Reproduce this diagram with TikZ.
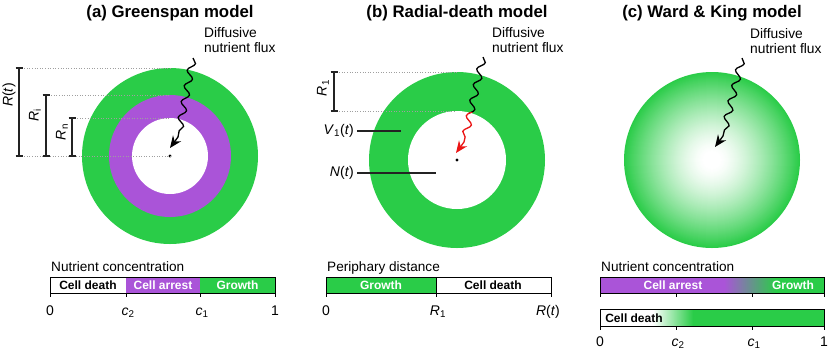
\documentclass[tikz,border=0pt]{standalone}
\usepackage{fontspec}
\setmainfont{Liberation Sans}
\usetikzlibrary{decorations.pathmorphing,arrows.meta}
\definecolor{grn}{RGB}{42,204,72}
\definecolor{prp}{RGB}{170,84,216}
\definecolor{dimc}{RGB}{35,35,35}
\definecolor{fluxred}{RGB}{235,20,20}
\tikzset{
 titlelab/.style={font=\fontsize{16.8}{19}\selectfont\bfseries, inner sep=0pt},
 fluxlab/.style={font=\fontsize{13.8}{15}\selectfont, align=left, anchor=base west, inner sep=0pt},
 wave/.style={decoration={snake, segment length=16pt, amplitude=3.5pt}, line width=1.3pt, -{Stealth[length=12pt,width=10pt,inset=4pt]}},
 barlab/.style={font=\fontsize{12}{14}\selectfont\bfseries, anchor=base, inner sep=0pt},
 ticklab/.style={font=\fontsize{14}{16}\selectfont, anchor=base, inner sep=0pt},
 caplab/.style={font=\fontsize{13.6}{15}\selectfont, anchor=base west, inner sep=0pt},
 dimlab/.style={font=\fontsize{14}{16}\selectfont, inner sep=0pt, rotate=90},
 sidelab/.style={font=\fontsize{14}{16}\selectfont, inner sep=0pt, anchor=east},
 dimline/.style={line width=1.3pt, draw=dimc},
 dotl/.style={draw=gray!75, dotted, line width=0.6pt},
 barframe/.style={draw=black, line width=0.8pt},
 tickmark/.style={draw=black, line width=0.8pt},
}
\begin{document}
\begin{tikzpicture}[x=1pt,y=-1pt]
\useasboundingbox (0,0) rectangle (830,357);

% ================= (a) Greenspan =================
\node[titlelab] (ta) at (170,13) {(a) Greenspan model};
\coordinate (ca) at (170,156);
\fill[grn] (ca) circle (88pt);
\fill[prp] (ca) circle (61pt);
\fill[white] (ca) circle (38pt);
\fill[black] (ca) circle (1.6pt);

\coordinate (Rt1) at (19,68);  \coordinate (Rt2) at (19,156);
\coordinate (Ri1) at (46,95);  \coordinate (Ri2) at (46,156);
\coordinate (Rn1) at (72,118); \coordinate (Rn2) at (72,156);
\coordinate (topRt) at (170,68);
\coordinate (topRi) at (170,95);
\coordinate (topRn) at (170,118);
\draw[dotl] (Rt1) -- (topRt);
\draw[dotl] (Ri1) -- (topRi);
\draw[dotl] (Rn1) -- (topRn);
\draw[dotl] (Rt2) -- (ca);
\foreach \p/\q in {Rt1/Rt2,Ri1/Ri2,Rn1/Rn2}{
  \draw[dimline] (\p) -- (\q);
  \draw[dimline] ([xshift=-3.5pt]\p) -- ([xshift=3.5pt]\p);
  \draw[dimline] ([xshift=-3.5pt]\q) -- ([xshift=3.5pt]\q);
}
\node[dimlab] (lRt) at (9,95) {\textit{R}(\textit{t})};
\node[dimlab] (lRi) at (35,115) {\textit{R}\textsubscript{i}};
\node[dimlab] (lRn) at (62,132) {\textit{R}\textsubscript{n}};

\coordinate (wa1) at (193,58);
\coordinate (wam) at (178,137);
\coordinate (wa2) at (170,148);
\draw[wave, black] decorate {(wa1) -- (wam)} -- (wa2);
\node[fluxlab] (fa) at (204,52.5) {Diffusive\\nutrient flux};

% bar (a)
\node[caplab] (na) at (51,271.7) {Nutrient concentration};
\fill[white] (50,277) rectangle (126,293);
\fill[prp] (126,277) rectangle (200,293);
\fill[grn] (200,277) rectangle (275,293);
\draw[barframe] (50,277) rectangle (275,293);
\foreach \x in {50,126,200,275} \draw[tickmark] (\x,293) -- (\x,297);
\node[barlab] (ba1) at (88,289.5) {Cell death};
\node[barlab, text=white] (ba2) at (163,289.5) {Cell arrest};
\node[barlab, text=white] (ba3) at (237.5,289.5) {Growth};
\node[ticklab] (ka0) at (50,315) {0};
\node[ticklab] (ka1) at (128,315) {\textit{c}\textsubscript{2}};
\node[ticklab] (ka2) at (202,315) {\textit{c}\textsubscript{1}};
\node[ticklab] (ka3) at (275,315) {1};

% ================= (b) Radial-death =================
\node[titlelab] (tb) at (457,13) {(b) Radial-death model};
\coordinate (cb) at (457,160);
\fill[grn] (cb) circle (88pt);
\fill[white] (cb) circle (49pt);
\fill[black] (cb) circle (1.6pt);

\coordinate (R11) at (334,72); \coordinate (R12) at (334,111);
\coordinate (topR1) at (458,72); \coordinate (inR1) at (456,111);
\draw[dotl] (R11) -- (topR1);
\draw[dotl] (R12) -- (inR1);
\draw[dimline] (R11) -- (R12);
\draw[dimline] ([xshift=-3.5pt]R11) -- ([xshift=3.5pt]R11);
\draw[dimline] ([xshift=-3.5pt]R12) -- ([xshift=3.5pt]R12);
\node[dimlab] (lR1) at (323,88) {\textit{R}\textsubscript{1}};

\node[sidelab] (lV) at (354,131) {\textit{V}\textsubscript{1}(\textit{t})};
\coordinate (V1e) at (401,131);
\draw[dimline] ([xshift=3pt]lV.east) -- (V1e);
\node[sidelab] (lN) at (354,173) {\textit{N}(\textit{t})};
\coordinate (Ne) at (436,173);
\draw[dimline] ([xshift=3pt]lN.east) -- (Ne);

\coordinate (wb1) at (483,57);
\coordinate (wbm) at (464,142);
\coordinate (wb2) at (456,153);
\begin{scope}
  \clip (400,40) rectangle (520,112);
  \draw[wave, black] decorate {(wb1) -- (wbm)} -- (wb2);
\end{scope}
\begin{scope}
  \clip (400,112) rectangle (520,170);
  \draw[wave, fluxred] decorate {(wb1) -- (wbm)} -- (wb2);
\end{scope}
\node[fluxlab] (fb) at (492,52.5) {Diffusive\\nutrient flux};

% bar (b)
\node[caplab] (nb) at (327,271.7) {Periphary distance};
\fill[grn] (326,277) rectangle (436,293);
\fill[white] (436,277) rectangle (551,293);
\draw[barframe] (326,277) rectangle (551,293);
\draw[barframe] (436,277) -- (436,293);
\foreach \x in {326,436,551} \draw[tickmark] (\x,293) -- (\x,297);
\node[barlab, text=white] (bb1) at (381,289.5) {Growth};
\node[barlab] (bb2) at (493,289.5) {Cell death};
\node[ticklab] (kb0) at (326,315) {0};
\node[ticklab] (kb1) at (438,315) {\textit{R}\textsubscript{1}};
\node[ticklab] (kb2) at (548,315) {\textit{R}(\textit{t})};

% ================= (c) Ward & King =================
\node[titlelab] (tc) at (712,13) {(c) Ward \& King model};
\coordinate (cc) at (712,160);
\foreach \i in {0,...,87}{
  \pgfmathsetmacro\rr{88*(1-\i/88)}
  \pgfmathsetmacro\pp{(max(0,(\rr/88-0.1)/0.9))^1.35*100}
  \fill[grn!\pp!white] (cc) circle (\rr pt);
}
\coordinate (wc1) at (742,58);
\coordinate (wcm) at (723,136);
\coordinate (wc2) at (715,147);
\draw[wave, black] decorate {(wc1) -- (wcm)} -- (wc2);
\node[fluxlab] (fc) at (750,53.3) {Diffusive\\nutrient flux};

% bars (c)
\node[caplab] (nc) at (601,271.7) {Nutrient concentration};
\fill[prp] (600,277) rectangle (724,293);
\shade[left color=prp, right color=grn] (724,277) rectangle (776,293);
\fill[grn] (776,277) rectangle (824,293);
\draw[barframe] (600,277) rectangle (824,293);
\foreach \x in {600,676,752,824} \draw[tickmark] (\x,293) -- (\x,297);
\node[barlab, text=white] (bc1) at (673,289.5) {Cell arrest};
\node[barlab, text=white] (bc2) at (793,289.5) {Growth};

\fill[white] (600,309) rectangle (653,326);
\shade[left color=white, right color=grn] (653,309) rectangle (693,326);
\fill[grn] (693,309) rectangle (824,326);
\draw[barframe] (600,309) rectangle (824,326);
\foreach \x in {600,676,752,824} \draw[tickmark] (\x,326) -- (\x,330);
\node[barlab] (bc3) at (634,322) {Cell death};
\node[ticklab] (kc0) at (600,346.5) {0};
\node[ticklab] (kc1) at (678,346.5) {\textit{c}\textsubscript{2}};
\node[ticklab] (kc2) at (754,346.5) {\textit{c}\textsubscript{1}};
\node[ticklab] (kc3) at (824,346.5) {1};
\end{tikzpicture}
\end{document}
